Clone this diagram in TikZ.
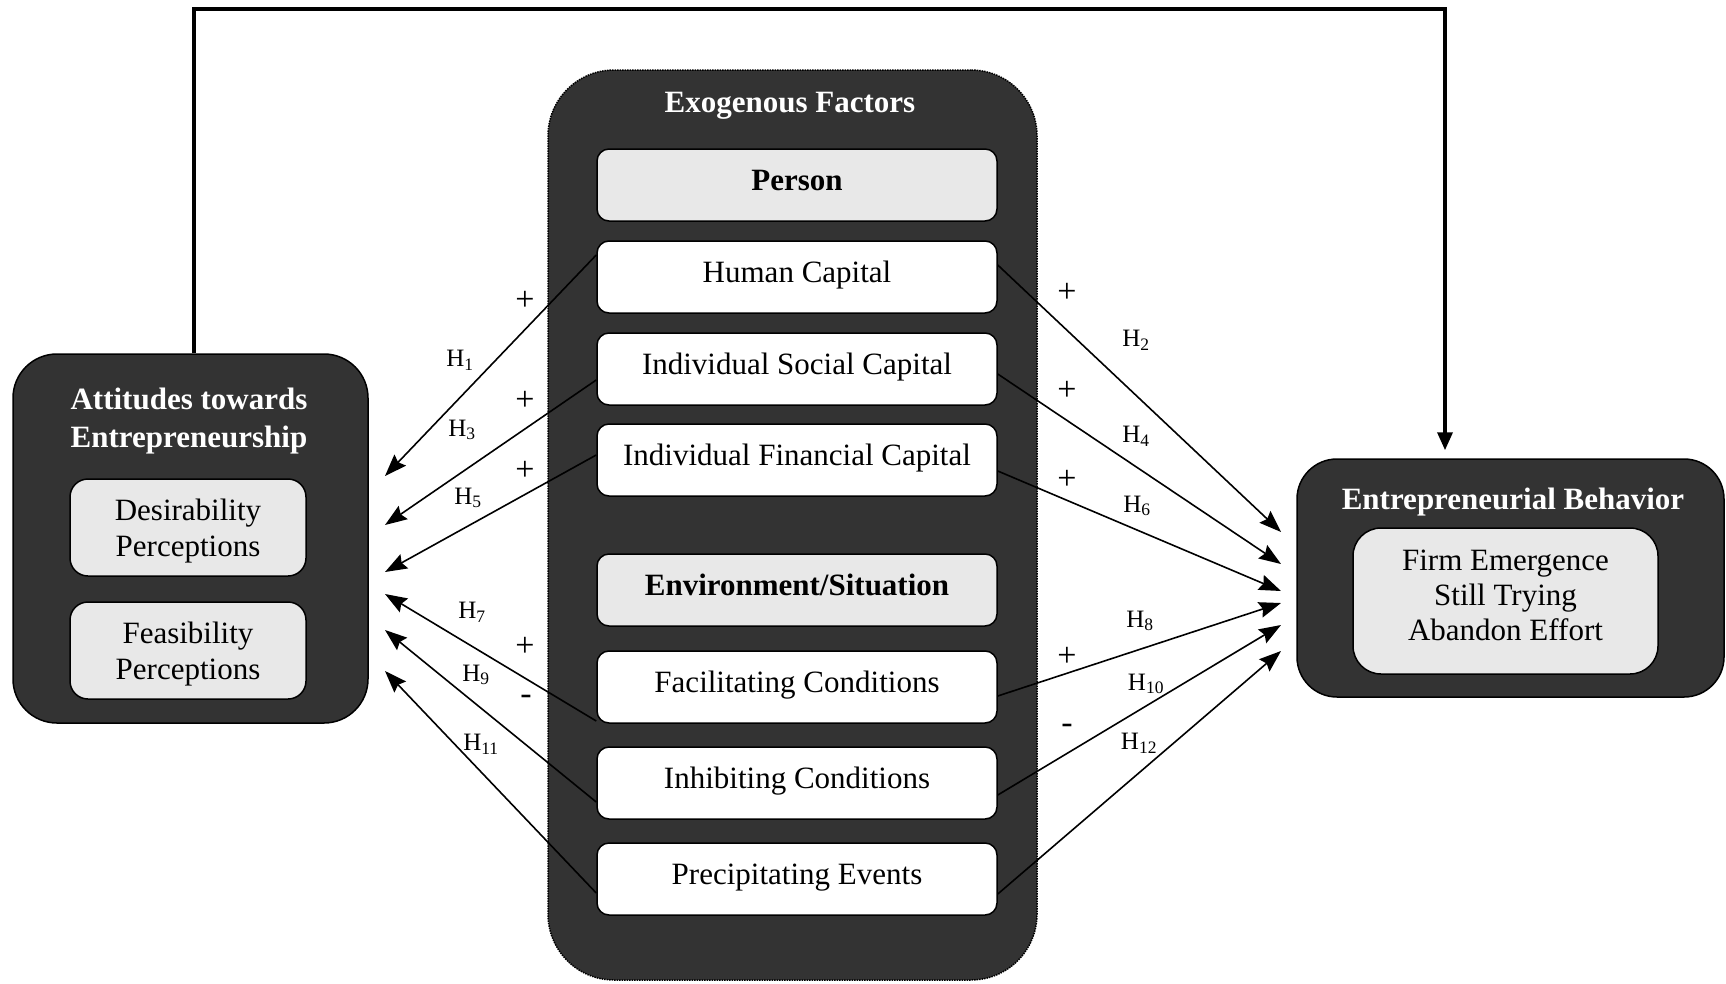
\documentclass[tikz,border=0pt]{standalone}
\usepackage{fontspec}
\setmainfont{Liberation Serif}
\usetikzlibrary{arrows.meta}

\definecolor{panel}{HTML}{333333}
\definecolor{lightbox}{HTML}{E8E8E8}

\begin{document}
\begin{tikzpicture}[x=1pt,y=-1pt,
  panelbox/.style={draw=black, line width=1.5pt, fill=panel, rounded corners=44pt, inner sep=0pt},
  itembox/.style={draw=black, line width=1.5pt, fill=white, rounded corners=12pt,
    minimum width=400pt, minimum height=72pt, inner sep=0pt,
    text height=20pt, text depth=10pt,
    font=\fontsize{31}{36}\selectfont},
  headbox/.style={itembox, fill=lightbox, font=\fontsize{31}{36}\selectfont\bfseries},
  subbox/.style={draw=black, line width=1.5pt, fill=lightbox, rounded corners=18pt,
    inner sep=0pt, align=center, font=\fontsize{31}{36}\selectfont},
  paneltitle/.style={text=white, align=center, font=\fontsize{31}{38}\selectfont\bfseries},
  link/.style={line width=1.6pt, -{Stealth[length=22pt,width=16pt,inset=3pt]}},
  sign/.style={font=\fontsize{34}{36}\selectfont},
  hyp/.style={font=\fontsize{25}{28}\selectfont},
]
\useasboundingbox (0,0) rectangle (1726,983);

% outer panels
\node[panelbox, minimum width=355pt, minimum height=369pt] (att) at (190.5,538.5) {};
\node[panelbox, draw=black, densely dotted, rounded corners=66pt,
      minimum width=489pt, minimum height=910pt] (exo) at (792.5,525) {};
\node[panelbox, rounded corners=40pt, minimum width=427pt, minimum height=238pt] (eb) at (1510.5,578) {};

% panel titles
\node[paneltitle] (atttitle) at (189,421) {Attitudes towards\\Entrepreneurship};
\node[paneltitle] (exotitle) at (790,106) {Exogenous Factors};
\node[paneltitle] (ebtitle) at (1513,502) {Entrepreneurial Behavior};

% attitude components
\node[subbox, minimum width=236pt, minimum height=97pt, text depth=0pt] (des) at (188,527.5) {Desirability\\Perceptions};
\node[subbox, minimum width=236pt, minimum height=97pt, text depth=0pt] (fea) at (188,650.5) {Feasibility\\Perceptions};

% behaviour outcomes
\node[subbox, rounded corners=28pt, minimum width=305pt, minimum height=146pt,
      text depth=11pt, font=\fontsize{31}{35}\selectfont] (out) at (1505.5,601)
      {Firm Emergence\\Still Trying\\Abandon Effort};

% exogenous factors
\node[headbox] (person) at (797,185) {Person};
\node[itembox] (hc)  at (797,277) {Human Capital};
\node[itembox] (sc)  at (797,369) {Individual Social Capital};
\node[itembox] (fc)  at (797,460) {Individual Financial Capital};
\node[headbox] (env) at (797,590) {Environment/Situation};
\node[itembox] (fac) at (797,687) {Facilitating Conditions};
\node[itembox] (inh) at (797,783) {Inhibiting Conditions};
\node[itembox] (pre) at (797,879) {Precipitating Events};

% feedback loop from attitudes to behaviour
\coordinate (fbL) at (194,9);
\coordinate (fbR) at (1445,9);
\draw[line width=3.5pt, -{Triangle[length=18pt,width=15pt]}]
  (att.north -| fbL) -- (fbL) -- (fbR) -- ([yshift=8pt]fbR |- eb.north);

% arrow ends at the attitudes panel
\coordinate (l1)  at (385,476);
\coordinate (l3)  at (385,525);
\coordinate (l5)  at (385,572);
\coordinate (l7)  at (385,594);
\coordinate (l9)  at (385,630);
\coordinate (l11) at (385,671);

% arrow ends at the behaviour panel
\coordinate (r2)  at (1281,532);
\coordinate (r4)  at (1281,564);
\coordinate (r6)  at (1281,591);
\coordinate (r8)  at (1281,603);
\coordinate (r10) at (1281,625);
\coordinate (r12) at (1281,651);

% hypotheses towards attitudes
\draw[link] ([yshift=22pt]hc.west)  -- (l1);
\draw[link] ([yshift=-11pt]sc.west) -- (l3);
\draw[link] ([yshift=5pt]fc.west)   -- (l5);
\draw[link] ([yshift=-34pt]fac.west) -- (l7);
\draw[link] ([yshift=-19pt]inh.west) -- (l9);
\draw[link] ([yshift=-14pt]pre.west) -- (l11);

% hypotheses towards behaviour
\draw[link] ([yshift=12pt]hc.east)  -- (r2);
\draw[link] ([yshift=-5pt]sc.east)  -- (r4);
\draw[link] ([yshift=-11pt]fc.east) -- (r6);
\draw[link] ([yshift=-9pt]fac.east) -- (r8);
\draw[link] ([yshift=-12pt]inh.east) -- (r10);
\draw[link] ([yshift=-15pt]pre.east) -- (r12);

% signs, left side
\node[sign] (sl1) at (525,301) {+};
\node[sign] (sl3) at (525,401) {+};
\node[sign] (sl5) at (525,471) {+};
\node[sign] (sl7) at (525,647) {+};
\node[sign] (sl9) at (526,700) {-};

% signs, right side
\node[sign] (sr2) at (1067,293) {+};
\node[sign] (sr4) at (1067,391) {+};
\node[sign] (sr6) at (1067,480) {+};
\node[sign] (sr8) at (1067,657) {+};
\node[sign] (sr10) at (1067,729) {-};

% hypothesis labels
\node[hyp] (h1)  at (460,360) {H\textsubscript{1}};
\node[hyp] (h3)  at (462,430) {H\textsubscript{3}};
\node[hyp] (h5)  at (468,498) {H\textsubscript{5}};
\node[hyp] (h7)  at (472,612) {H\textsubscript{7}};
\node[hyp] (h9)  at (476,675) {H\textsubscript{9}};
\node[hyp] (h11) at (481,744) {H\textsubscript{11}};
\node[hyp] (h2)  at (1136,340) {H\textsubscript{2}};
\node[hyp] (h4)  at (1136,436) {H\textsubscript{4}};
\node[hyp] (h6)  at (1137,506) {H\textsubscript{6}};
\node[hyp] (h8)  at (1140,621) {H\textsubscript{8}};
\node[hyp] (h10) at (1146,684) {H\textsubscript{10}};
\node[hyp] (h12) at (1139,743) {H\textsubscript{12}};
\end{tikzpicture}
\end{document}
